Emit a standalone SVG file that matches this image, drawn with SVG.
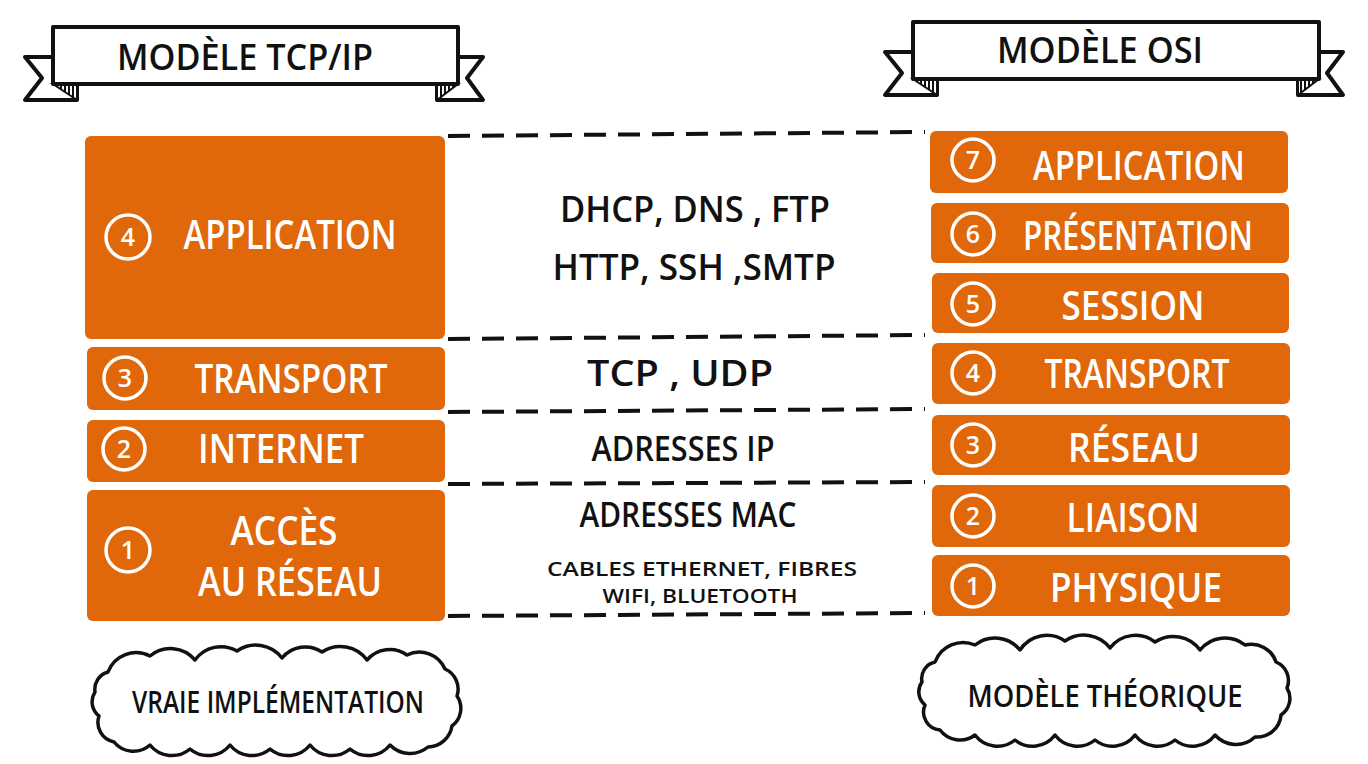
<svg xmlns="http://www.w3.org/2000/svg" width="1368" height="764" viewBox="0 0 1368 764">
<defs>
<pattern id="hatch" width="4" height="4" patternUnits="userSpaceOnUse">
<rect width="4" height="4" fill="#fff"/>
<rect width="2" height="4" fill="#111"/>
</pattern>
</defs>
<style>
.box{fill:#E0670A}
.wt{fill:#fff;font-family:"Open Sans","Liberation Sans",sans-serif;font-weight:600;font-size:40px;text-anchor:middle}
.num{fill:#fff;font-family:"Open Sans","Liberation Sans",sans-serif;font-weight:600;font-size:25px;text-anchor:middle}
.ring{fill:none;stroke:#fff;stroke-width:3.5}
.bt{fill:#111;font-family:"Open Sans","Liberation Sans",sans-serif;font-weight:600;text-anchor:middle}
.dash{fill:none;stroke:#111;stroke-width:4;stroke-dasharray:22 12}
.ban{fill:#fff;stroke:#111;stroke-width:4;stroke-linejoin:round}
.fold{fill:url(#hatch);stroke:#111;stroke-width:2}
.cloud{fill:#fff;stroke:#111;stroke-width:3.5;stroke-linejoin:round}
</style>
<rect width="1368" height="764" fill="#fff"/>

<g id="banner-tcpip">
<path class="ban" d="M53,57 L25,57 L42,78 L25,100 L77,100 L77,84 Z"/>
<polygon class="fold" points="53,84 77,84 77,100"/>
<path class="ban" d="M458,57 L483,57 L467,78 L483,100 L437,100 L437,84 Z"/>
<polygon class="fold" points="458,84 437,84 437,100"/>
<rect class="ban" x="53" y="27" width="405" height="57"/>
<text class="bt" x="245" y="70" font-size="36" textLength="256" lengthAdjust="spacingAndGlyphs">MODÈLE TCP/IP</text>
</g>

<g id="banner-osi">
<path class="ban" d="M913,52 L885,52 L902,73 L885,95 L937,95 L937,79 Z"/>
<polygon class="fold" points="913,79 937,79 937,95"/>
<path class="ban" d="M1319,52 L1343,52 L1327,73 L1343,95 L1298,95 L1298,79 Z"/>
<polygon class="fold" points="1319,79 1298,79 1298,95"/>
<rect class="ban" x="913" y="22" width="406" height="57"/>
<text class="bt" x="1100" y="63" font-size="36" textLength="206" lengthAdjust="spacingAndGlyphs">MODÈLE OSI</text>
</g>

<g id="connectors">
<line class="dash" x1="448" y1="136" x2="925" y2="132"/>
<line class="dash" x1="448" y1="339" x2="925" y2="335"/>
<line class="dash" x1="448" y1="412" x2="925" y2="409"/>
<line class="dash" x1="448" y1="484" x2="925" y2="482"/>
<line class="dash" x1="448" y1="616" x2="925" y2="613"/>
</g>

<g id="tcp-application">
<rect class="box" x="85" y="136" width="360" height="203" rx="6"/>
<circle class="ring" cx="128" cy="237" r="22"/>
<text class="num" x="128" y="246">4</text>
<text class="wt" x="290" y="249" textLength="213" lengthAdjust="spacingAndGlyphs">APPLICATION</text>
</g>
<g id="tcp-transport">
<rect class="box" x="87" y="347" width="358" height="63" rx="6"/>
<circle class="ring" cx="125" cy="378" r="21"/>
<text class="num" x="125" y="387">3</text>
<text class="wt" x="291" y="393" textLength="193" lengthAdjust="spacingAndGlyphs">TRANSPORT</text>
</g>
<g id="tcp-internet">
<rect class="box" x="87" y="420" width="358" height="62" rx="6"/>
<circle class="ring" cx="124" cy="449" r="21"/>
<text class="num" x="124" y="458">2</text>
<text class="wt" x="281" y="463" textLength="166" lengthAdjust="spacingAndGlyphs">INTERNET</text>
</g>
<g id="tcp-access">
<rect class="box" x="87" y="490" width="358" height="131" rx="6"/>
<circle class="ring" cx="128" cy="550" r="22"/>
<text class="num" x="128" y="559">1</text>
<text class="wt" x="284" y="545" textLength="107" lengthAdjust="spacingAndGlyphs">ACCÈS</text>
<text class="wt" x="290" y="596" textLength="184" lengthAdjust="spacingAndGlyphs">AU RÉSEAU</text>
</g>

<g id="osi-7">
<rect class="box" x="930" y="131" width="358" height="62" rx="6"/>
<circle class="ring" cx="973" cy="160" r="21"/>
<text class="num" x="973" y="169">7</text>
<text class="wt" x="1139" y="180" textLength="212" lengthAdjust="spacingAndGlyphs">APPLICATION</text>
</g>
<g id="osi-6">
<rect class="box" x="931" y="203" width="358" height="60" rx="6"/>
<circle class="ring" cx="973" cy="234" r="21"/>
<text class="num" x="973" y="243">6</text>
<text class="wt" x="1138" y="250" textLength="230" lengthAdjust="spacingAndGlyphs">PRÉSENTATION</text>
</g>
<g id="osi-5">
<rect class="box" x="932" y="273" width="357" height="60" rx="6"/>
<circle class="ring" cx="973" cy="304" r="21"/>
<text class="num" x="973" y="313">5</text>
<text class="wt" x="1133" y="320" textLength="143" lengthAdjust="spacingAndGlyphs">SESSION</text>
</g>
<g id="osi-4">
<rect class="box" x="932" y="343" width="358" height="61" rx="6"/>
<circle class="ring" cx="973" cy="373" r="21"/>
<text class="num" x="973" y="382">4</text>
<text class="wt" x="1137" y="388" textLength="185" lengthAdjust="spacingAndGlyphs">TRANSPORT</text>
</g>
<g id="osi-3">
<rect class="box" x="932" y="415" width="358" height="60" rx="6"/>
<circle class="ring" cx="973" cy="445" r="21"/>
<text class="num" x="973" y="454">3</text>
<text class="wt" x="1134" y="462" textLength="132" lengthAdjust="spacingAndGlyphs">RÉSEAU</text>
</g>
<g id="osi-2">
<rect class="box" x="932" y="485" width="358" height="62" rx="6"/>
<circle class="ring" cx="973" cy="516" r="21"/>
<text class="num" x="973" y="525">2</text>
<text class="wt" x="1133" y="532" textLength="133" lengthAdjust="spacingAndGlyphs">LIAISON</text>
</g>
<g id="osi-1">
<rect class="box" x="932" y="555" width="358" height="61" rx="6"/>
<circle class="ring" cx="973" cy="586" r="21"/>
<text class="num" x="973" y="595">1</text>
<text class="wt" x="1136" y="602" textLength="172" lengthAdjust="spacingAndGlyphs">PHYSIQUE</text>
</g>

<g id="protocols">
<text class="bt" x="695" y="222" font-size="36" textLength="270" lengthAdjust="spacingAndGlyphs">DHCP, DNS , FTP</text>
<text class="bt" x="694" y="280" font-size="36" textLength="283" lengthAdjust="spacingAndGlyphs">HTTP, SSH ,SMTP</text>
<text class="bt" x="680" y="386" font-size="36" textLength="186" lengthAdjust="spacingAndGlyphs">TCP , UDP</text>
<text class="bt" x="683" y="461" font-size="34" textLength="183" lengthAdjust="spacingAndGlyphs">ADRESSES IP</text>
<text class="bt" x="688" y="527" font-size="34" textLength="217" lengthAdjust="spacingAndGlyphs">ADRESSES MAC</text>
<text class="bt" x="702" y="576" font-size="20" textLength="310" lengthAdjust="spacingAndGlyphs">CABLES ETHERNET, FIBRES</text>
<text class="bt" x="700" y="603" font-size="20" textLength="195" lengthAdjust="spacingAndGlyphs">WIFI, BLUETOOTH</text>
</g>

<g id="cloud-tcpip">
<path class="cloud" d="M108,672 A30,30 0 0 1 150,656 A32,32 0 0 1 195,660 A32,32 0 0 1 237,651 A33,33 0 0 1 282,658 A30,30 0 0 1 322,652 A33,33 0 0 1 367,660 A30,30 0 0 1 407,655 A28,28 0 0 1 445,669 A22,22 0 0 1 457,696 A22,22 0 0 1 452,726 A25,25 0 0 1 428,747 A28,28 0 0 1 390,745 A28,28 0 0 1 350,749 A28,28 0 0 1 310,745 A28,28 0 0 1 270,749 A28,28 0 0 1 230,745 A28,28 0 0 1 190,749 A28,28 0 0 1 150,745 A25,25 0 0 1 114,742 A20,20 0 0 1 99,716 A18,18 0 0 1 95,692 A18,18 0 0 1 108,672 Z"/>
<text class="bt" x="278" y="713" font-size="30" textLength="292" lengthAdjust="spacingAndGlyphs">VRAIE IMPLÉMENTATION</text>
</g>

<g id="cloud-osi">
<path class="cloud" d="M935,662 A30,30 0 0 1 975,645 A32,32 0 0 1 1020,650 A32,32 0 0 1 1065,641 A33,33 0 0 1 1110,648 A32,32 0 0 1 1155,642 A33,33 0 0 1 1200,650 A32,32 0 0 1 1245,645 A26,26 0 0 1 1276,662 A20,20 0 0 1 1287,688 A20,20 0 0 1 1281,715 A24,24 0 0 1 1255,737 A28,28 0 0 1 1215,735 A28,28 0 0 1 1175,740 A28,28 0 0 1 1135,735 A28,28 0 0 1 1095,740 A28,28 0 0 1 1055,735 A28,28 0 0 1 1015,740 A28,28 0 0 1 975,735 A25,25 0 0 1 940,730 A18,18 0 0 1 925,705 A17,17 0 0 1 922,682 A17,17 0 0 1 935,662 Z"/>
<text class="bt" x="1105" y="707" font-size="30" textLength="275" lengthAdjust="spacingAndGlyphs">MODÈLE THÉORIQUE</text>
</g>
</svg>
